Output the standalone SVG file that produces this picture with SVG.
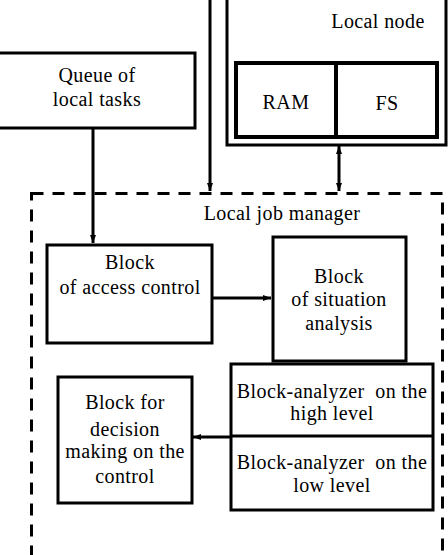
<svg xmlns="http://www.w3.org/2000/svg" width="448" height="555" viewBox="0 0 448 555">
<defs>
<style>
.box{fill:#fff;stroke:#000;stroke-width:3}
.thick{fill:#fff;stroke:#000;stroke-width:4}
.t{font-family:"Liberation Serif","Times New Roman","DejaVu Serif",serif;font-size:20px;fill:#000;text-anchor:middle;letter-spacing:0.4px;white-space:pre}
.ln{stroke:#000;stroke-width:3;fill:none}
</style>
<marker id="ah" viewBox="0 0 8 8" refX="8" refY="4" markerWidth="8" markerHeight="8" markerUnits="userSpaceOnUse" orient="auto-start-reverse"><path d="M0,1 L8,4 L0,7 Z" fill="#000"/></marker>
</defs>
<rect width="448" height="555" fill="#fff"/>
<g id="manager">
<rect x="31.5" y="193.5" width="411" height="380" fill="none" stroke="#000" stroke-width="3" stroke-dasharray="12 9"/>
<text class="t" x="282" y="220">Local job manager</text>
</g>
<g id="queue">
<rect class="box" x="-2" y="53" width="197" height="75"/>
<text class="t" x="97" y="82">Queue of</text>
<text class="t" x="97" y="106">local tasks</text>
</g>
<g id="localnode">
<rect class="box" x="227" y="-5" width="219" height="150"/>
<text class="t" x="378" y="28">Local node</text>
<g id="ram"><rect class="thick" x="236" y="63" width="100" height="74"/><text class="t" x="286" y="109">RAM</text></g>
<g id="fs"><rect class="thick" x="336" y="63" width="101" height="74"/><text class="t" x="387" y="110">FS</text></g>
</g>
<g id="access">
<rect class="box" x="47" y="245" width="165" height="98"/>
<text class="t" x="130" y="269">Block</text>
<text class="t" x="130" y="294">of access control</text>
</g>
<g id="situation">
<rect class="box" x="273" y="237" width="133" height="124"/>
<text class="t" x="339" y="283">Block</text>
<text class="t" x="339" y="306">of situation</text>
<text class="t" x="339" y="330">analysis</text>
</g>
<g id="analyzer">
<rect class="box" x="231" y="364" width="202" height="146"/>
<line class="ln" x1="231" y1="436" x2="433" y2="436"/>
<text class="t" x="332" y="398" xml:space="preserve">Block-analyzer  on the</text>
<text class="t" x="332" y="420">high level</text>
<text class="t" x="332" y="469" xml:space="preserve">Block-analyzer  on the</text>
<text class="t" x="332" y="492">low level</text>
</g>
<g id="decision">
<rect class="box" x="58" y="377" width="134" height="126"/>
<text class="t" x="125" y="409">Block for</text>
<text class="t" x="125" y="436">decision</text>
<text class="t" x="125" y="458">making on the</text>
<text class="t" x="125" y="483">control</text>
</g>
<g id="connectors">
<line class="ln" x1="93" y1="128" x2="93" y2="243" marker-end="url(#ah)"/>
<line class="ln" x1="210" y1="0" x2="210" y2="191" marker-end="url(#ah)"/>
<line class="ln" x1="339" y1="146" x2="339" y2="191" marker-start="url(#ah)" marker-end="url(#ah)"/>
<line class="ln" x1="212" y1="298" x2="271" y2="298" marker-end="url(#ah)"/>
<line class="ln" x1="231" y1="437" x2="193" y2="437" marker-end="url(#ah)"/>
</g>
</svg>
